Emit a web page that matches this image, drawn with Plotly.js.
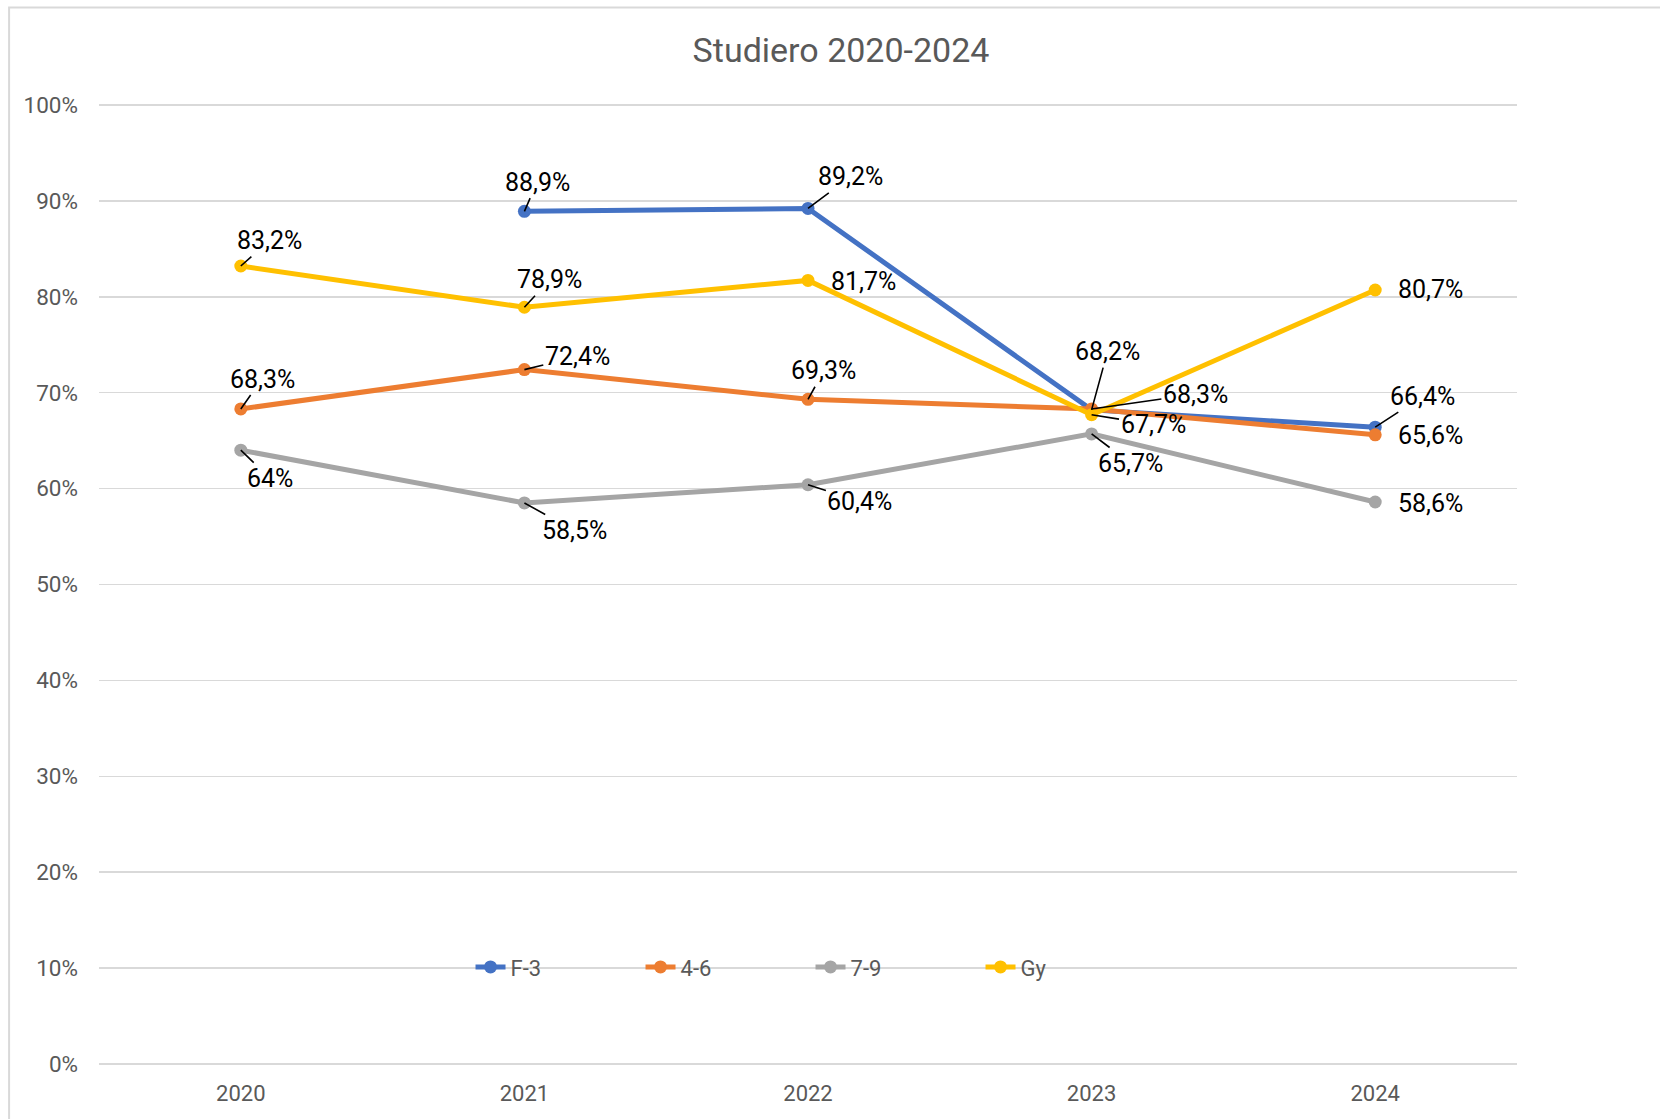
<!DOCTYPE html>
<html>
<head>
<meta charset="utf-8">
<script src="https://cdn.plot.ly/plotly-3.0.1.min.js"></script>
<style>
  html, body { margin: 0; padding: 0; background: #ffffff; }
  #chart { width: 1660px; height: 1119px; }
</style>
</head>
<body>
<div id="chart"></div>
<script>
// ---- data ----
const years = ['2020', '2021', '2022', '2023', '2024'];
const seriesNames = ['F-3', '4-6', '7-9', 'Gy'];
const f3 = [null, 0.889, 0.892, 0.682, 0.664];
const g46 = [0.683, 0.724, 0.693, 0.683, 0.656];
const g79 = [0.640, 0.585, 0.604, 0.657, 0.586];
const gy = [0.832, 0.789, 0.817, 0.677, 0.807];
const yTicks = [0, 0.1, 0.2, 0.3, 0.4, 0.5, 0.6, 0.7, 0.8, 0.9, 1.0];
const yTickText = ['0%', '10%', '20%', '30%', '40%', '50%', '60%', '70%', '80%', '90%', '100%'];

// ---- style ----
const colors = ['#4472C4', '#ED7D31', '#A5A5A5', '#FFC000'];
const allSeries = [f3, g46, g79, gy];

// label placement (pixel offsets from point: [dx, dy, leader line?])
const labelOffsets = [
  [null, [12.7, -29.2, true], [42.3, -31.5, true], [15.9, -58.3, true], [47.6, -31.1, true]],
  [[21.2, -29.9, true], [52.9, -12.7, true], [15.9, -28.6, true], [103.8, -14.8, true], [55, 1, false]],
  [[29.6, 28.4, true], [49.8, 27.5, true], [51.9, 17, true], [39.2, 29.6, true], [55, 1, false]],
  [[28.6, -25.4, true], [25.4, -27.5, true], [55, 1, false], [61.4, 10, true], [55, 0, false]]
];

function fmt(v) {
  const p = Math.round(v * 1000) / 10;
  if (Math.abs(p - Math.round(p)) < 1e-9) return Math.round(p) + '%';
  return p.toFixed(1).replace('.', ',') + '%';
}

const FONT = 'Roboto, "Liberation Sans", Arial, sans-serif';

const traces = allSeries.map((vals, i) => ({
  type: 'scatter',
  mode: 'lines+markers',
  name: seriesNames[i],
  x: years,
  y: vals,
  line: { color: colors[i], width: 5 },
  marker: { color: colors[i], size: 13 },
  hoverinfo: 'skip'
}));

const annotations = [];
allSeries.forEach((vals, i) => {
  vals.forEach((v, j) => {
    if (v === null) return;
    const off = labelOffsets[i][j];
    const a = {
      x: j, y: v, xref: 'x', yref: 'y',   // category index of years[j]
      text: fmt(v),
      font: { family: FONT, size: 25, color: '#000000' }
    };
    if (off[2]) {
      Object.assign(a, {
        showarrow: true, arrowhead: 0, arrowwidth: 1.6, arrowcolor: '#000000',
        ax: off[0], ay: off[1], axref: 'pixel', ayref: 'pixel', standoff: 0
      });
    } else {
      Object.assign(a, { showarrow: false, xshift: off[0], yshift: -off[1] });
    }
    annotations.push(a);
  });
});

const layout = {
  width: 1660,
  height: 1119,
  paper_bgcolor: '#ffffff',
  plot_bgcolor: '#ffffff',
  margin: { l: 98.5, r: 143, t: 101, b: 51.2 },
  title: {
    text: 'Studiero 2020-2024',
    font: { family: FONT, size: 34, color: '#595959' },
    x: 841 / 1660, xref: 'container', xanchor: 'center',
    y: 1 - 50 / 1119, yref: 'container', yanchor: 'middle'
  },
  xaxis: {
    type: 'category',
    range: [-0.5, 4.5],
    showgrid: false,
    zeroline: false,
    showline: false,
    ticks: '',
    tickfont: { family: FONT, size: 22, color: '#595959' },
    ticklabelstandoff: 10,
    fixedrange: true
  },
  yaxis: {
    range: [-0.004, 1.004],
    tickvals: yTicks,
    ticktext: yTickText,
    showgrid: true,
    gridcolor: '#d9d9d9',
    gridwidth: 1.6,
    zeroline: false,
    showline: false,
    ticks: '',
    tickfont: { family: FONT, size: 22.5, color: '#595959' },
    ticklabelstandoff: 20,
    fixedrange: true
  },
  showlegend: true,
  legend: {
    orientation: 'h',
    x: 0.262, xanchor: 'left',
    y: 0.1043, yanchor: 'middle',
    font: { family: FONT, size: 22, color: '#595959' },
    bgcolor: 'rgba(0,0,0,0)',
    entrywidth: 125,
    entrywidthmode: 'pixels',
    itemclick: false,
    itemdoubleclick: false
  },
  annotations: annotations,
  shapes: [{
    type: 'path', xref: 'paper', yref: 'paper',
    path: 'M -0.0634,-0.1 L -0.0634,1.0968 L 1.2,1.0968',
    line: { color: '#d9d9d9', width: 2 }
  }]
};

Plotly.newPlot('chart', traces, layout, { staticPlot: true, displayModeBar: false });
</script>
</body>
</html>
